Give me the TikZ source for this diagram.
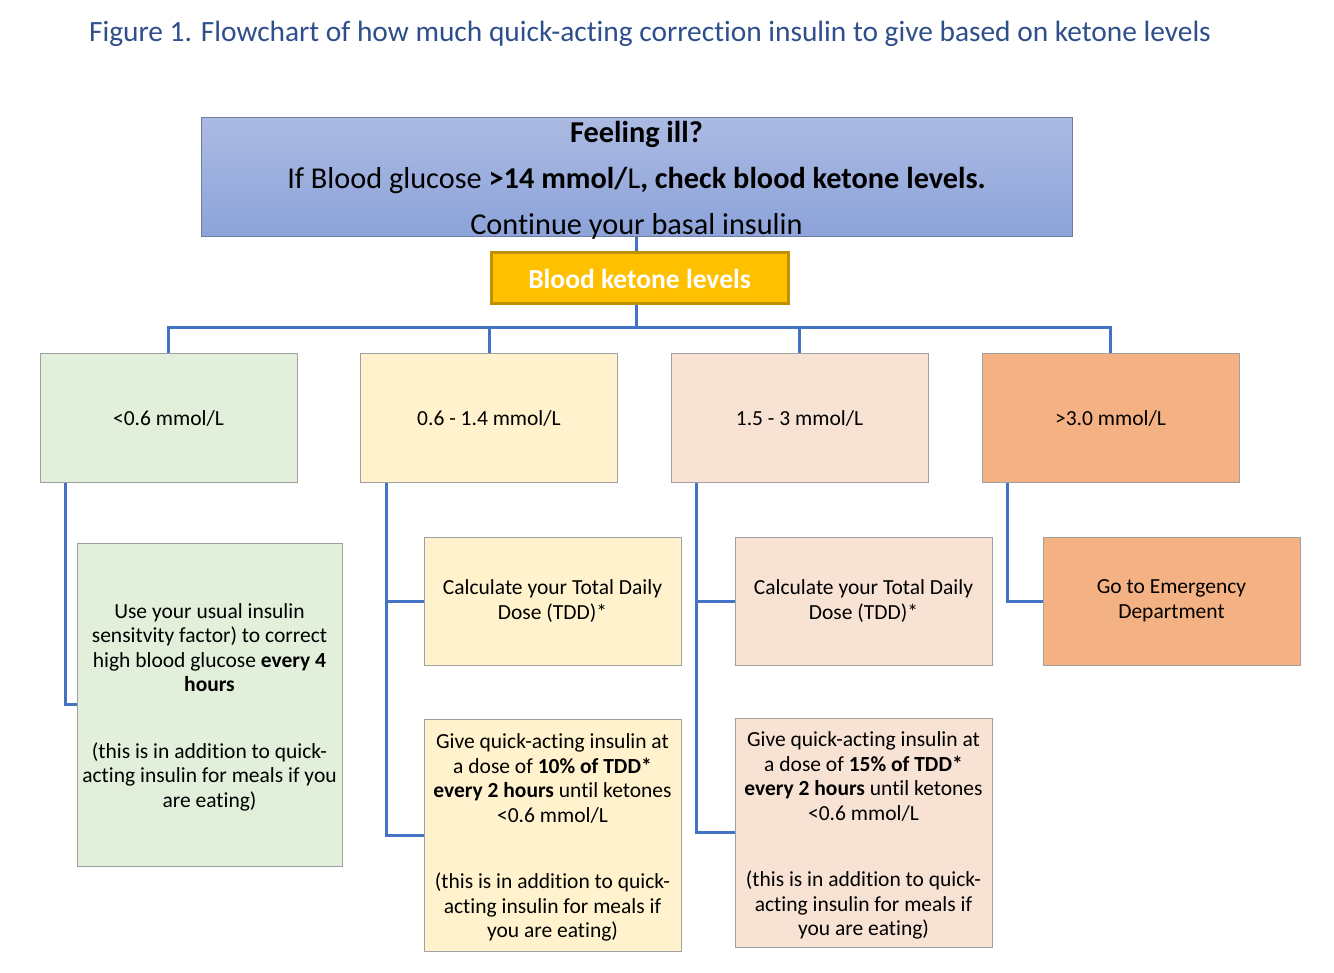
\documentclass[tikz,border=0pt]{standalone}
\usepackage{fontspec}
\setmainfont[Ligatures=NoCommon]{Carlito}
\definecolor{titleblue}{HTML}{2E4E8C}
\definecolor{conncol}{HTML}{4472C4}
\definecolor{topA}{HTML}{ABBAE2}
\definecolor{topB}{HTML}{8CA3D9}
\definecolor{topborder}{HTML}{6F7E9E}
\definecolor{ketfill}{HTML}{FFC000}
\definecolor{ketborder}{HTML}{BF9000}
\definecolor{gfill}{HTML}{E2EFDA}
\definecolor{yfill}{HTML}{FFF2CC}
\definecolor{pfill}{HTML}{F8E2D4}
\definecolor{ofill}{HTML}{F4B183}
\definecolor{boxborder}{HTML}{A0A0A0}
\tikzset{
  conn/.style={draw=conncol, line width=3pt},
  lvl/.style={draw=boxborder, line width=1pt, minimum width=257pt, minimum height=129pt, inner sep=0pt, align=center, font=\fontsize{21.5}{24.5}\selectfont},
  act/.style={draw=boxborder, line width=1pt, minimum width=257pt, inner sep=0pt, align=center, font=\fontsize{21.5}{24.5}\selectfont},
  acttext/.style={inner sep=0pt, align=center, font=\fontsize{21.5}{24.5}\selectfont},
}
\begin{document}
\begin{tikzpicture}[x=1pt,y=-1pt]
\useasboundingbox[fill=white] (0,0) rectangle (1334,973);
\node[text=titleblue, font=\fontsize{29.4}{32}\selectfont, anchor=center] (title) at (650,34) {Figure 1. Flowchart of how much quick-acting correction insulin to give based on ketone levels};
\node[draw=topborder, line width=1pt, top color=topA, bottom color=topB, minimum width=871pt, minimum height=119pt, inner sep=0pt] (top) at (636.5,177.5) {};
\node[align=center, font=\fontsize{30.3}{46}\selectfont, inner sep=0pt] (toptext) at (636.5,180) {\textbf{Feeling ill?}\\If Blood glucose \textbf{>14 mmol/}L\textbf{, check blood ketone levels.}\\Continue your basal insulin};
\node[draw=ketborder, line width=3pt, fill=ketfill, minimum width=297pt, minimum height=51pt, inner sep=0pt, text=white, font=\fontsize{27.5}{30}\selectfont\bfseries] (ket) at (639.5,278.5) {Blood ketone levels};
\node[lvl, fill=gfill] (l1) at (168.5,418.5) {<0.6 mmol/L};
\node[lvl, fill=yfill] (l2) at (489,418.5) {0.6 - 1.4 mmol/L};
\node[lvl, fill=pfill] (l3) at (799.5,418.5) {1.5 - 3 mmol/L};
\node[lvl, fill=ofill] (l4) at (1110.5,418.5) {>3.0 mmol/L};
\node[act, fill=gfill, minimum width=265pt, minimum height=323pt] (c1) at (209.5,704.5) {};
\node[acttext] (c1t) at (209.5,707) {Use your usual insulin\\ sensitvity factor) to correct\\ high blood glucose \textbf{every 4}\\ \textbf{hours}\\[42pt] (this is in addition to quick-\\ acting insulin for meals if you\\ are eating)};
\node[act, fill=yfill, minimum height=128pt] (t2) at (552.5,601) {Calculate your Total Daily\\ Dose (TDD)*};
\node[act, fill=yfill, minimum height=232pt] (g2) at (552.5,835) {};
\node[acttext] (g2t) at (552.5,837.5) {Give quick-acting insulin at\\ a dose of \textbf{10\% of TDD*}\\ \textbf{every 2 hours} until ketones\\ <0.6 mmol/L\\[42pt] (this is in addition to quick-\\ acting insulin for meals if\\ you are eating)};
\node[act, fill=pfill, minimum height=128pt] (t3) at (863.5,601) {Calculate your Total Daily\\ Dose (TDD)*};
\node[act, fill=pfill, minimum height=229pt] (g3) at (863.5,832.5) {};
\node[acttext] (g3t) at (863.5,835.5) {Give quick-acting insulin at\\ a dose of \textbf{15\% of TDD*}\\ \textbf{every 2 hours} until ketones\\ <0.6 mmol/L\\[42pt] (this is in addition to quick-\\ acting insulin for meals if\\ you are eating)};
\node[act, fill=ofill, minimum height=128pt] (e4) at (1171.5,601) {Go to Emergency\\ Department};
% connectors
\coordinate (kb) at (ket.south -| top.south);
\draw[conn] (top.south) -- (top.south |- ket.north);
\draw[conn] (kb) -- ++(0,22) -| (l1.north);
\draw[conn] (kb) -- ++(0,22) -| (l2.north);
\draw[conn] (kb) -- ++(0,22) -| (l3.north);
\draw[conn] (kb) -- ++(0,22) -| (l4.north);
\draw[conn] (l1.south west) ++(26,0) |- (c1.west);
\draw[conn] (l2.south west) ++(26,0) |- (t2.west);
\draw[conn] (l2.south west) ++(26,0) |- (g2.west);
\draw[conn] (l3.south west) ++(26,0) |- (t3.west);
\draw[conn] (l3.south west) ++(26,0) |- (g3.west);
\draw[conn] (l4.south west) ++(26,0) |- (e4.west);
\end{tikzpicture}
\end{document}
